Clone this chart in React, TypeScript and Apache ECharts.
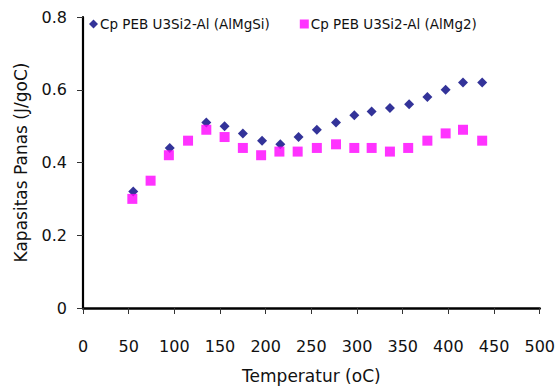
import React, { useEffect, useRef } from "react";
import * as echarts from "echarts";

const seriesNames = ["Cp PEB U3Si2-Al (AlMgSi)", "Cp PEB U3Si2-Al (AlMg2)"];

const almgsiTemp = [55, 95, 135, 155, 175, 196, 216, 236, 256, 277, 297, 316, 336, 357, 377, 397, 416, 437];
const almgsiCp = [0.32, 0.44, 0.51, 0.50, 0.48, 0.46, 0.45, 0.47, 0.49, 0.51, 0.53, 0.54, 0.55, 0.56, 0.58, 0.60, 0.62, 0.62];

const almg2Temp = [54, 74, 94, 115, 135, 155, 175, 195, 215, 235, 256, 277, 297, 316, 336, 356, 377, 397, 416, 437];
const almg2Cp = [0.30, 0.35, 0.42, 0.46, 0.49, 0.47, 0.44, 0.42, 0.43, 0.43, 0.44, 0.45, 0.44, 0.44, 0.43, 0.44, 0.46, 0.48, 0.49, 0.46];

const xAxisTitle = "Temperatur (oC)";
const yAxisTitle = "Kapasitas Panas (J/goC)";

const FONT = "DejaVu Sans";

export default function App() {
  const ref = useRef<HTMLDivElement>(null);

  useEffect(() => {
    document.body.style.margin = "0";
    if (!ref.current) return;
    const chart = echarts.init(ref.current, undefined, { renderer: "svg" });
    const pairs = (xs: number[], ys: number[]) => xs.map((x, i) => [x, ys[i]]);
    chart.setOption({
      animation: false,
      backgroundColor: "#ffffff",
      textStyle: { fontFamily: FONT },
      legend: {
        left: 89,
        top: 17,
        padding: 0,
        itemWidth: 9,
        itemHeight: 9,
        itemGap: 30,
        textStyle: { fontFamily: FONT, fontSize: 13.5, color: "#111", padding: [0, 0, 0, -3] },
        data: [
          { name: seriesNames[0], icon: "diamond" },
          { name: seriesNames[1], icon: "rect" },
        ],
      },
      grid: { left: 83, right: 18, top: 17, bottom: 79, containLabel: false },
      xAxis: {
        type: "value",
        min: 0,
        max: 500,
        interval: 50,
        name: xAxisTitle,
        nameLocation: "middle",
        nameGap: 59,
        nameTextStyle: { fontFamily: FONT, fontSize: 17, color: "#111" },
        axisLine: { show: true, onZero: false, lineStyle: { color: "#000", width: 2.5 } },
        axisTick: { show: true, length: 6, lineStyle: { color: "#333", width: 1 } },
        axisLabel: { fontFamily: FONT, fontSize: 16, color: "#111", margin: 30 },
        splitLine: { show: false },
      },
      yAxis: {
        type: "value",
        min: 0,
        max: 0.8,
        interval: 0.2,
        name: yAxisTitle,
        nameLocation: "middle",
        nameGap: 54,
        nameRotate: 90,
        nameTextStyle: { fontFamily: FONT, fontSize: 17, color: "#111" },
        axisLine: { show: true, onZero: false, lineStyle: { color: "#000", width: 2.2 } },
        axisTick: { show: true, length: 6, lineStyle: { color: "#333", width: 1 } },
        axisLabel: { fontFamily: FONT, fontSize: 16, color: "#111", margin: 16 },
        splitLine: { show: false },
      },
      series: [
        {
          name: seriesNames[0],
          type: "scatter",
          symbol: "diamond",
          symbolSize: 10,
          itemStyle: { color: "#000080" },
          data: pairs(almgsiTemp, almgsiCp),
          z: 2,
        },
        {
          name: seriesNames[1],
          type: "scatter",
          symbol: "rect",
          symbolSize: 10,
          itemStyle: { color: "#ff00ff" },
          data: pairs(almg2Temp, almg2Cp),
          z: 3,
        },
      ],
    });
    return () => chart.dispose();
  }, []);

  return <div ref={ref} style={{ width: 558, height: 389 }} />;
}
